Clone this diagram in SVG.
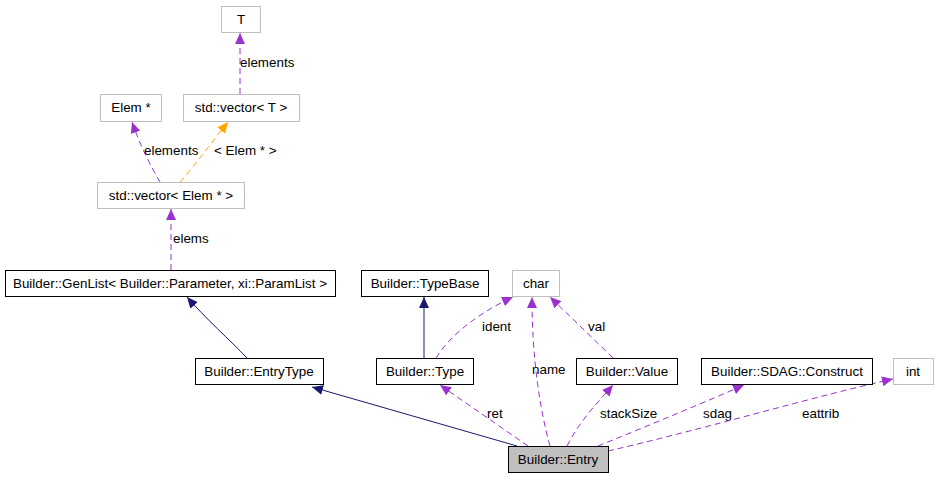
<svg xmlns="http://www.w3.org/2000/svg" width="936" height="477" viewBox="0 0 936 477">
<style>
text{font-family:"Liberation Sans",Arial,Helvetica,sans-serif;font-size:13.4px;fill:#000}
.nt{text-anchor:middle}
.bx{fill:#fff;stroke:#000;stroke-width:1}
.gx{fill:#fff;stroke:#bfbfbf;stroke-width:1}
.cur{fill:#bfbfbf;stroke:#000;stroke-width:1}
.e{fill:none;stroke-width:1}
.pu{stroke:#9a32cd;stroke-dasharray:6,4}
.nv{stroke:#191970}
.or{stroke:#ffa500;stroke-dasharray:6,4}
</style>
<defs>
<marker id="ap" markerUnits="userSpaceOnUse" markerWidth="12" markerHeight="10" refX="11" refY="5" orient="auto"><path d="M0,0 L11,5 L0,10 z" fill="#9a32cd"/></marker>
<marker id="an" markerUnits="userSpaceOnUse" markerWidth="12" markerHeight="10" refX="11" refY="5" orient="auto"><path d="M0,0 L11,5 L0,10 z" fill="#191970"/></marker>
<marker id="ao" markerUnits="userSpaceOnUse" markerWidth="12" markerHeight="10" refX="11" refY="5" orient="auto"><path d="M0,0 L11,5 L0,10 z" fill="#ffa500"/></marker>
</defs>
<g id="edges">
<path class="e pu" d="M240,94 L240,33" marker-end="url(#ap)"/>
<text x="240" y="67">elements</text>
<path class="e pu" d="M160,182 C150,165 140,145 132,122" marker-end="url(#ap)"/>
<text x="144" y="155">elements</text>
<path class="e or" d="M180,182 C195,165 212,142 228,122" marker-end="url(#ao)"/>
<text x="214" y="155">&lt; Elem * &gt;</text>
<path class="e pu" d="M171,270 L171,209" marker-end="url(#ap)"/>
<text x="173" y="243">elems</text>
<path class="e nv" d="M247,358 C230,340 205,318 187,297" marker-end="url(#an)"/>
<path class="e nv" d="M517,446 L312,387" marker-end="url(#an)"/>
<path class="e nv" d="M424,358 L424,297" marker-end="url(#an)"/>
<path class="e pu" d="M436,358 C450,335 480,312 513,297" marker-end="url(#ap)"/>
<text x="482" y="331">ident</text>
<path class="e pu" d="M550,446 C540,410 532,360 532,297" marker-end="url(#ap)"/>
<text x="532" y="374">name</text>
<path class="e pu" d="M613,358 L550,297" marker-end="url(#ap)"/>
<text x="588" y="331">val</text>
<path class="e pu" d="M528,446 L440,385" marker-end="url(#ap)"/>
<text x="487" y="418">ret</text>
<path class="e pu" d="M567,446 C580,420 600,400 613,385" marker-end="url(#ap)"/>
<text x="600" y="418">stackSize</text>
<path class="e pu" d="M598,446 C650,425 710,400 744,385" marker-end="url(#ap)"/>
<text x="703" y="418">sdag</text>
<path class="e pu" d="M608,451 C700,430 820,395 893,379" marker-end="url(#ap)"/>
<text x="802" y="418">eattrib</text>
</g>
<g id="node-T"><rect class="gx" x="221.5" y="6.5" width="39" height="26"/><text class="nt" x="241" y="24">T</text></g>
<g id="node-Elem"><rect class="gx" x="100.5" y="94.5" width="61" height="27"/><text class="nt" x="131" y="112">Elem *</text></g>
<g id="node-vectorT"><rect class="gx" x="183.5" y="94.5" width="116" height="27"/><text class="nt" x="241" y="112">std::vector&lt; T &gt;</text></g>
<g id="node-vectorElem"><rect class="gx" x="97.5" y="182.5" width="147" height="26"/><text class="nt" x="171" y="200">std::vector&lt; Elem * &gt;</text></g>
<g id="node-GenList"><rect class="bx" x="5.5" y="270.5" width="330" height="26"/><text class="nt" x="170" y="288">Builder::GenList&lt; Builder::Parameter, xi::ParamList &gt;</text></g>
<g id="node-TypeBase"><rect class="bx" x="361.5" y="270.5" width="127" height="26"/><text class="nt" x="425" y="288">Builder::TypeBase</text></g>
<g id="node-char"><rect class="gx" x="512.5" y="270.5" width="47" height="26"/><text class="nt" x="536" y="288">char</text></g>
<g id="node-EntryType"><rect class="bx" x="195.5" y="358.5" width="128" height="26"/><text class="nt" x="259" y="376">Builder::EntryType</text></g>
<g id="node-Type"><rect class="bx" x="376.5" y="358.5" width="97" height="26"/><text class="nt" x="425" y="376">Builder::Type</text></g>
<g id="node-Value"><rect class="bx" x="576.5" y="358.5" width="101" height="26"/><text class="nt" x="627" y="376">Builder::Value</text></g>
<g id="node-Construct"><rect class="bx" x="701.5" y="358.5" width="171" height="26"/><text class="nt" x="787" y="376">Builder::SDAG::Construct</text></g>
<g id="node-int"><rect class="gx" x="893.5" y="358.5" width="40" height="26"/><text class="nt" x="913" y="376">int</text></g>
<g id="node-Entry"><rect class="cur" x="508.5" y="446.5" width="100" height="26"/><text class="nt" x="558" y="464">Builder::Entry</text></g>
</svg>
